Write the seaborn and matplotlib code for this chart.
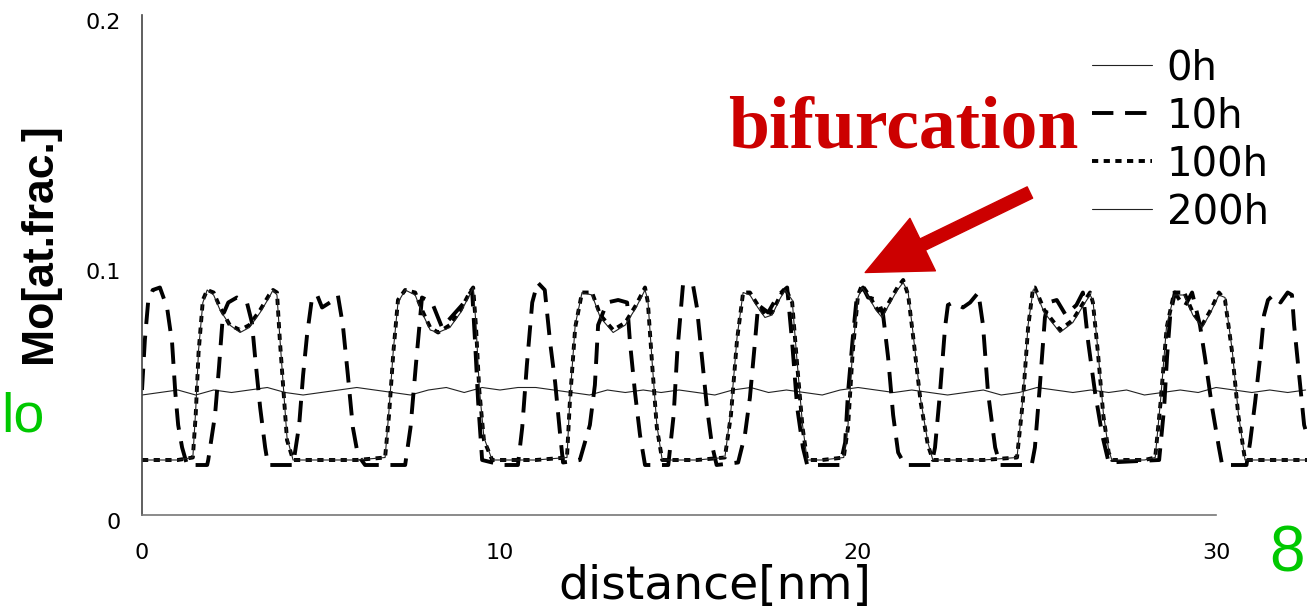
import matplotlib
matplotlib.use("Agg")
import matplotlib.pyplot as plt
import matplotlib.transforms as mtransforms
import numpy as np
import pandas as pd
import seaborn as sns

# ---- data (distance in nm, Mo in at. frac.) ----
x_0h = np.arange(0, 33.0, 0.5)
mo_0h = [0.048, 0.049, 0.050, 0.048, 0.050, 0.049, 0.050, 0.051, 0.049, 0.048,
         0.049, 0.050, 0.051, 0.050, 0.049, 0.048, 0.050, 0.051, 0.049, 0.051,
         0.050, 0.051, 0.051, 0.050, 0.049, 0.048, 0.050, 0.049, 0.050, 0.049,
         0.050, 0.049, 0.048, 0.050, 0.051, 0.049, 0.050, 0.049, 0.048, 0.050,
         0.051, 0.050, 0.049, 0.050, 0.049, 0.048, 0.049, 0.050, 0.048, 0.049,
         0.051, 0.050, 0.049, 0.050, 0.049, 0.050, 0.048, 0.049, 0.050, 0.049,
         0.051, 0.050, 0.049, 0.050, 0.049, 0.050]

x_10h = [0.00, 0.08, 0.17, 0.30, 0.50, 0.70, 0.84, 0.93, 1.01, 1.12, 1.26, 1.82,
         1.85, 2.04, 2.15, 2.26, 2.41, 2.65, 2.93, 3.07, 3.16, 3.30, 3.44, 3.52,
         4.22, 4.39, 4.50, 4.61, 4.75, 4.89, 5.03, 5.25, 5.47, 5.61, 5.75, 5.89,
         6.03, 6.23, 7.35, 7.50, 7.65, 7.82, 8.10, 8.38, 8.94, 9.22, 9.30, 9.39,
         9.50, 10.06, 10.50, 10.62, 10.75, 10.90, 11.05, 11.25, 11.40, 11.54, 11.68,
         11.76, 12.23, 12.51, 12.65, 12.74, 12.99, 13.30, 13.55, 13.63, 13.77, 13.91,
         14.05, 14.70, 14.85, 14.95, 15.11, 15.39, 15.50, 15.64, 15.78, 15.92, 16.05,
         16.65, 16.84, 16.98, 17.12, 17.21, 17.49, 17.77, 18.02, 18.16, 18.30, 18.46,
         18.58, 19.50, 19.64, 19.72, 19.86, 19.97, 20.14, 20.28, 20.56, 20.70, 20.84,
         20.98, 21.12, 21.31, 22.05, 22.15, 22.29, 22.43, 22.51, 22.65, 22.93, 23.13,
         23.36, 23.49, 23.63, 23.83, 23.97, 24.85, 24.94, 25.08, 25.22, 25.31, 25.55,
         25.80, 26.10, 26.28, 26.43, 26.62, 26.82, 27.00, 28.41, 28.55, 28.63, 28.72,
         28.85, 29.11, 29.33, 29.55, 29.69, 29.89, 30.08, 30.17, 30.85, 30.95, 31.09,
         31.23, 31.34, 31.45, 31.60, 31.80, 32.00, 32.12, 32.18, 32.32, 32.46, 32.54]
mo_10h = [0.050, 0.070, 0.085, 0.090, 0.091, 0.083, 0.069, 0.049, 0.036, 0.027, 0.020, 0.020,
          0.022, 0.040, 0.059, 0.080, 0.085, 0.087, 0.085, 0.077, 0.063, 0.043, 0.027, 0.020,
          0.020, 0.036, 0.056, 0.072, 0.087, 0.088, 0.083, 0.085, 0.088, 0.076, 0.056, 0.035,
          0.024, 0.020, 0.020, 0.035, 0.060, 0.087, 0.085, 0.075, 0.084, 0.090, 0.070, 0.045,
          0.022, 0.020, 0.020, 0.035, 0.060, 0.085, 0.093, 0.090, 0.069, 0.053, 0.032,
          0.021, 0.022, 0.036, 0.052, 0.076, 0.085, 0.086, 0.085, 0.069, 0.049, 0.032,
          0.020, 0.020, 0.040, 0.065, 0.092, 0.092, 0.083, 0.063, 0.043, 0.028, 0.020,
          0.021, 0.032, 0.047, 0.069, 0.084, 0.081, 0.088, 0.091, 0.069, 0.043, 0.027,
          0.020, 0.020, 0.029, 0.049, 0.072, 0.088, 0.091, 0.087, 0.086, 0.080, 0.063,
          0.040, 0.025, 0.020, 0.020, 0.027, 0.049, 0.075, 0.084, 0.085, 0.083, 0.085,
          0.089, 0.076, 0.049, 0.027, 0.020, 0.020, 0.027, 0.052, 0.079, 0.085, 0.086,
          0.080, 0.084, 0.089, 0.069, 0.049, 0.032, 0.021, 0.022, 0.043, 0.063, 0.080,
          0.089, 0.083, 0.089, 0.076, 0.063, 0.043, 0.027, 0.020, 0.020, 0.029, 0.045,
          0.063, 0.080, 0.086, 0.088, 0.085, 0.089, 0.088, 0.076, 0.056, 0.036, 0.032]

x_100h = [0.00, 1.00, 1.42, 1.50, 1.58, 1.70, 1.82, 2.00, 2.18, 2.45, 2.74, 3.00, 3.30,
          3.55, 3.66, 3.77, 3.85, 3.95, 4.05, 4.22, 5.00, 6.00, 6.79, 6.90, 7.02, 7.15,
          7.35, 7.63, 7.82, 8.05, 8.27, 8.60, 8.90, 9.15, 9.25, 9.33, 9.42, 9.55, 9.78,
          11.00, 11.87, 11.95, 12.10, 12.29, 12.57, 12.80, 13.16, 13.50, 13.80, 14.05,
          14.13, 14.25, 14.38, 14.53, 15.50, 16.28, 16.45, 16.62, 16.79, 16.98, 17.20,
          17.40, 17.60, 17.80, 17.96, 18.16, 18.30, 18.45, 18.58, 19.00, 19.60, 19.72,
          19.85, 20.00, 20.11, 20.30, 20.50, 20.67, 20.90, 21.10, 21.26, 21.40, 21.55,
          21.75, 21.95, 22.09, 23.50, 24.44, 24.60, 24.75, 24.89, 24.94, 25.20, 25.64,
          26.00, 26.30, 26.48, 26.56, 26.70, 26.85, 27.00, 27.09, 28.00, 28.30, 28.45,
          28.62, 28.83, 29.11, 29.35, 29.61, 29.85, 30.08, 30.25, 30.45, 30.62, 30.81,
          32.54]
mo_100h = [0.022, 0.022, 0.023, 0.040, 0.065, 0.086, 0.090, 0.089, 0.083, 0.076, 0.074, 0.076, 0.082,
           0.088, 0.090, 0.089, 0.070, 0.050, 0.030, 0.022, 0.022, 0.022, 0.023, 0.040, 0.065, 0.086,
           0.090, 0.089, 0.082, 0.075, 0.073, 0.076, 0.082, 0.089, 0.091, 0.075, 0.050, 0.030, 0.022,
           0.022, 0.023, 0.045, 0.075, 0.089, 0.089, 0.080, 0.074, 0.077, 0.084, 0.091,
           0.085, 0.060, 0.035, 0.022, 0.022, 0.023, 0.040, 0.070, 0.089, 0.089, 0.084,
           0.080, 0.081, 0.087, 0.091, 0.085, 0.060, 0.035, 0.022, 0.022, 0.023, 0.035,
           0.065, 0.088, 0.092, 0.088, 0.083, 0.080, 0.086, 0.091, 0.094, 0.088, 0.070,
           0.045, 0.028, 0.022, 0.022, 0.023, 0.045, 0.075, 0.091, 0.091, 0.082, 0.074,
           0.078, 0.085, 0.089, 0.085, 0.065, 0.040, 0.025, 0.022, 0.022, 0.023, 0.045,
           0.075, 0.089, 0.089, 0.081, 0.076, 0.082, 0.089, 0.086, 0.065, 0.040, 0.022,
           0.022]

x_200h = x_100h
mo_200h = [0.022, 0.022, 0.023, 0.042, 0.066, 0.085, 0.090, 0.088, 0.082, 0.076, 0.073, 0.075, 0.081,
           0.087, 0.090, 0.088, 0.071, 0.051, 0.031, 0.022, 0.022, 0.022, 0.023, 0.042, 0.066, 0.085,
           0.090, 0.088, 0.081, 0.074, 0.073, 0.075, 0.081, 0.088, 0.091, 0.076, 0.051, 0.031, 0.022,
           0.022, 0.023, 0.046, 0.076, 0.089, 0.088, 0.079, 0.073, 0.076, 0.083, 0.090,
           0.086, 0.061, 0.036, 0.022, 0.022, 0.023, 0.042, 0.071, 0.089, 0.088, 0.083,
           0.079, 0.080, 0.086, 0.090, 0.086, 0.061, 0.036, 0.022, 0.022, 0.023, 0.036,
           0.066, 0.087, 0.091, 0.087, 0.082, 0.079, 0.085, 0.090, 0.093, 0.089, 0.071,
           0.046, 0.029, 0.022, 0.022, 0.023, 0.046, 0.076, 0.090, 0.090, 0.081, 0.073,
           0.077, 0.084, 0.088, 0.086, 0.066, 0.041, 0.026, 0.022, 0.022, 0.023, 0.046,
           0.076, 0.088, 0.088, 0.080, 0.075, 0.081, 0.088, 0.087, 0.066, 0.041, 0.022,
           0.022]

series_labels = ["0h", "10h", "100h", "200h"]
x_ticks = [0, 10, 20, 30]
y_ticks = [0, 0.1, 0.2]
y_ticklabels = ["0", "0.1", "0.2"]

RED = "#cc0000"
GREEN = "#00c800"

sns.set_style("white")
plt.rcParams.update({"font.family": ["DejaVu Sans"], "axes.linewidth": 1.2, "text.color": "black",
                     "axes.labelcolor": "black", "xtick.color": "black", "ytick.color": "black"})

fig = plt.figure(figsize=(13.07, 6.10), dpi=100)
ax = fig.add_axes([142 / 1307, 1 - 515 / 610, 1 - 142 / 1307, 500 / 610])

styles = [
    dict(lw=0.8, color="#222222", ls="-"),
    dict(lw=2.8, color="black", ls=(0, (5.5, 3.0))),
    dict(lw=2.8, color="black", ls=(0, (1.6, 1.4))),
    dict(lw=0.8, color="#222222", ls="-"),
]
xs = [x_0h, x_10h, x_100h, x_200h]
ys = [mo_0h, mo_10h, mo_100h, mo_200h]
handles = []
for xv, yv, st in zip(xs, ys, styles):
    df = pd.DataFrame({"distance": xv, "Mo": yv})
    sns.lineplot(data=df, x="distance", y="Mo", ax=ax, estimator=None, sort=False,
                 color=st["color"], linewidth=st["lw"], linestyle=st["ls"])
    handles.append(ax.lines[-1])

ax.set_xlim(0, 32.54)
ax.set_ylim(0, 0.2)
ax.set_xticks(x_ticks)
ax.set_xticklabels([str(t) for t in x_ticks])
ax.set_yticks(y_ticks)
ax.set_yticklabels(y_ticklabels)
ax.tick_params(axis="y", direction="in", length=9.5, width=1.0, pad=15, labelsize=16, colors="#333333", labelcolor="black")
ax.tick_params(axis="x", direction="in", length=5, width=1.0, pad=20, labelsize=16, colors="#333333", labelcolor="black")
shift = mtransforms.ScaledTranslation(0, -4 / 72, fig.dpi_scale_trans)
for lbl in ax.get_yticklabels():
    lbl.set_transform(lbl.get_transform() + shift)
for side in ["top", "right"]:
    ax.spines[side].set_visible(False)
ax.spines["left"].set_color("#444444")
ax.spines["bottom"].set_color("#777777")
ax.spines["bottom"].set_bounds(0, 30)
ax.set_xlabel("")
ax.set_ylabel("")

fig.text(715 / 1307, 1 - 587 / 610, "distance[nm]", ha="center", va="center", fontsize=34)
fig.text(40 / 1307, 1 - 243 / 610, "Mo[at.frac.]", ha="center", va="center", rotation=90,
         fontsize=32, fontweight="bold", family=["Liberation Sans", "DejaVu Sans"])

ax.legend(handles, series_labels, loc="upper left", bbox_to_anchor=(1092 / 1307, 1 - 48 / 610),
          bbox_transform=fig.transFigure, frameon=False, fontsize=29, handlelength=1.5,
          handletextpad=0.35, labelspacing=0.2, borderpad=0, borderaxespad=0)

fig.text(728 / 1307, 1 - 147 / 610, "bifurcation", ha="left", va="baseline", color=RED,
         fontsize=53, fontweight="bold", family=["Liberation Serif"])
ax.annotate("", xy=(20.2, 0.097), xytext=(24.8, 0.129),
            arrowprops=dict(arrowstyle="simple,head_length=2.3,head_width=2.1,tail_width=0.45",
                            mutation_scale=20, color=RED, shrinkA=0, shrinkB=0))

fig.text(1 / 1307, 1 - 418 / 610, "lo", ha="left", va="center", color=GREEN, fontsize=40,
         family=["Liberation Sans", "DejaVu Sans"])
fig.text(1287 / 1307, 1 - 554 / 610, "8", ha="center", va="center", color=GREEN, fontsize=46,
         family=["Liberation Sans", "DejaVu Sans"])

fig.savefig("out.png", dpi=100)
